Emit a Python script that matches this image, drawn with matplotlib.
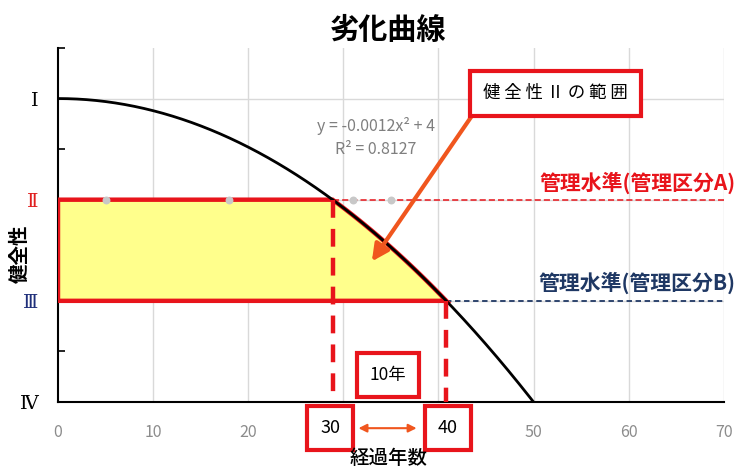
import numpy as np
import matplotlib.pyplot as plt
from matplotlib.patches import Polygon

plt.rcParams['font.family'] = ['Noto Sans CJK JP', 'DejaVu Sans']

# 読み取った値
years_obs = [5, 18, 31, 35]
health_obs = [3, 3, 3, 3]
curve_x = [0, 5, 10, 15, 20, 25, 30, 35, 40, 45, 50]
curve_y = [4.0, 3.97, 3.88, 3.73, 3.52, 3.25, 2.92, 2.53, 2.08, 1.57, 1.0]
level_a = 3   # 健全性II
level_b = 2   # 健全性III
x_ticks = [0, 10, 20, 30, 40, 50, 60, 70]
y_ticks = [4, 3, 2, 1]
y_labels = ['Ⅰ', 'Ⅱ', 'Ⅲ', 'Ⅳ']
y_label_colors = ['black', '#E02020', '#1F2F7A', 'black']
eq_text = 'y = -0.0012x² + 4'
r2_text = 'R² = 0.8127'

RED = '#E8141B'
NAVY = '#1F3864'
ORANGE = '#F0561E'

fig = plt.figure(figsize=(7.37, 4.69), dpi=100)
ax = fig.add_axes([0.0787, 0.1429, 0.9033, 0.7548])
ax.set_xlim(0, 70)
ax.set_ylim(1, 4.5)

# グリッド
for xv in x_ticks[1:]:
    ax.axvline(xv, color='#D9D9D9', lw=1, zorder=0)
for yv in [2, 3, 4]:
    ax.axhline(yv, color='#D9D9D9', lw=1, zorder=0)

# 近似曲線（2次の近似）
cx = np.array(curve_x, dtype=float)
cy = np.array(curve_y, dtype=float)
coef = np.polyfit(cx, cy, 2)
xs = np.linspace(0, 50, 300)
ys = np.polyval(coef, xs)
x_a = float(np.interp(level_a, ys[::-1], xs[::-1]))
x_b = float(np.interp(level_b, ys[::-1], xs[::-1]))

# 管理水準ライン
ax.plot([0, 70], [level_a, level_a], ls=(0, (4, 2)), color=RED, lw=1.1, zorder=2)
ax.plot([x_b, 70], [level_b, level_b], ls=(0, (3, 2)), color=NAVY, lw=1.3, zorder=2)

# 黄色の範囲
mask = (xs > x_a) & (xs < x_b)
poly_pts = [(0, level_a), (x_a, level_a)] + list(zip(xs[mask], ys[mask])) + \
           [(x_b, level_b), (0, level_b)]
ax.add_patch(Polygon(poly_pts, closed=True, facecolor='#FFFF8C', edgecolor=RED,
                     lw=3.2, joinstyle='miter', zorder=3))

# 曲線
ax.plot(xs, ys, color='black', lw=2, zorder=4)
ax.scatter(years_obs, health_obs, s=22, color='#C8C8C8', zorder=5)

# 縦の破線
ax.plot([x_a, x_a], [level_a, 1.09], ls=(0, (4, 2.5)), color=RED, lw=3.2, zorder=5)
ax.plot([x_b, x_b], [level_b, 1.0], ls=(0, (4, 2.5)), color=RED, lw=3.2, zorder=5)

# 軸
for s in ['top', 'right']:
    ax.spines[s].set_visible(False)
ax.spines['left'].set_linewidth(1.5)
ax.spines['bottom'].set_linewidth(1.5)
ax.set_xticks(x_ticks)
ax.set_xticklabels([str(v) if v not in (30, 40) else '' for v in x_ticks],
                   color='#8C8C8C', fontsize=11.5)
ax.tick_params(axis='x', length=0, pad=16)
ax.set_yticks(y_ticks)
ax.set_yticklabels(y_labels, fontsize=14, family=['DejaVu Serif', 'Noto Sans CJK JP'])
for lab, c in zip(ax.get_yticklabels(), y_label_colors):
    lab.set_color(c)
ax.tick_params(axis='y', length=0, pad=14)
ax.set_yticks([1.5, 2.5, 3.5, 4.5], minor=True)
ax.tick_params(axis='y', which='minor', direction='in', length=5, width=1.2)

xt = ax.get_xaxis_transform()
for v, xpos in ((30, 28.6), (40, 41.0)):
    ax.text(xpos, -0.073, str(v), transform=xt,
            ha='center', va='center', fontsize=13, color='black',
            bbox=dict(boxstyle='square,pad=0.72', fc='white', ec=RED, lw=3),
            clip_on=False)
ax.annotate('', xy=(31.3, -0.074), xytext=(38.0, -0.074), xycoords=xt,
            textcoords=xt, arrowprops=dict(arrowstyle='<|-|>', color=ORANGE,
                                           lw=1.5, mutation_scale=12),
            annotation_clip=False)

# テキスト
ax.text(33.4, 3.73, eq_text, ha='center', va='center', fontsize=11.5, color='#7F7F7F')
ax.text(33.4, 3.50, r2_text, ha='center', va='center', fontsize=11.5, color='#7F7F7F')
ax.text(71.2, 3.17, '管理水準(管理区分A)', ha='right', va='center', fontsize=15,
        fontweight='bold', color=RED, clip_on=False)
ax.text(71.2, 2.18, '管理水準(管理区分B)', ha='right', va='center', fontsize=15,
        fontweight='bold', color=NAVY, clip_on=False)

ax.annotate('', xy=(33.0, 2.39), xytext=(43.6, 3.84),
            arrowprops=dict(arrowstyle='-|>', color=ORANGE, lw=3,
                            mutation_scale=25, shrinkA=0, shrinkB=0), zorder=6)
ax.text(52.3, 4.05, '健 全 性 Ⅱ の 範 囲', ha='center', va='center', fontsize=12.5,
        color='black', zorder=7,
        bbox=dict(boxstyle='square,pad=0.75', fc='white', ec=RED, lw=3))
ax.text(34.7, 1.27, '10年', ha='center', va='center', fontsize=12.5, color='black',
        bbox=dict(boxstyle='square,pad=0.75', fc='white', ec=RED, lw=3), zorder=7)

fig.text(0.527, 0.935, '劣化曲線', ha='center', va='center', fontsize=21,
         fontweight='bold')
fig.text(0.527, 0.022, '経過年数', ha='center', va='center', fontsize=14,
         fontweight='medium')
fig.text(0.028, 0.458, '健全性', ha='center', va='center', fontsize=14,
         fontweight='bold', rotation=90)

fig.savefig('out.png', dpi=100)
